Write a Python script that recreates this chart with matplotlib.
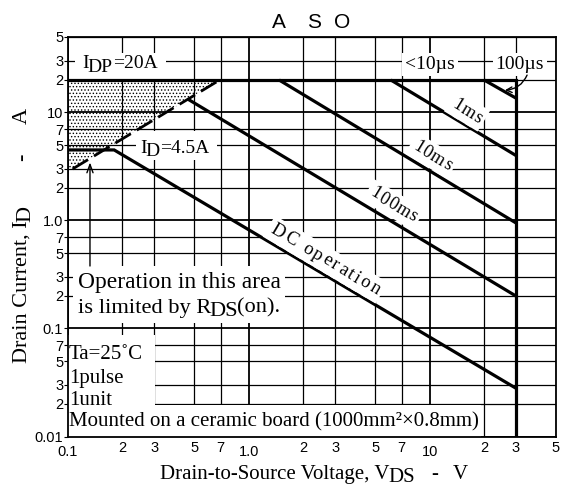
import numpy as np
import matplotlib
matplotlib.use("Agg")
import matplotlib.pyplot as plt
from matplotlib.patches import Rectangle
from matplotlib.font_manager import FontProperties
from matplotlib.transforms import IdentityTransform

# ---------------- data ----------------
limit_v = [0.1, 30, 30]          # I_DP = 20 A line, then V_DSS = 30 V
limit_i = [20, 20, 0.01]
rds_v = [0.106, 0.69]            # R_DS(on) limit (dashed)
rds_i = [3.0, 20]
dc_v = [0.1, 0.18, 30]           # I_D = 4.5 A, then DC operation
dc_i = [4.5, 4.5, 0.028]
ms100_v = [0.46, 30]
ms100_i = [13.3, 0.2]
ms10_v = [1.47, 30]
ms10_i = [20, 0.95]
ms1_v = [6.1, 30]
ms1_i = [20, 4.0]
us100_v = [20, 30]
us100_i = [20, 13.6]

x_major = [0.1, 1, 10]
x_major_labels = ['0.1', '1.0', '10']
x_minor = [0.2, 0.3, 0.5, 0.7, 2, 3, 5, 7, 20, 30, 50]
x_minor_labels = ['2', '3', '5', '7', '2', '3', '5', '7', '2', '3', '5']
y_major = [0.01, 0.1, 1, 10]
y_major_labels = ['0.01', '0.1', '1.0', '10']
y_minor = [0.02, 0.03, 0.05, 0.07, 0.2, 0.3, 0.5, 0.7, 2, 3, 5, 7, 20, 30, 50]
y_minor_labels = ['2', '3', '5', '7', '2', '3', '5', '7', '2', '3', '5', '7', '2', '3', '5']

# ---------------- figure ----------------
SERIF = "Liberation Serif"
SANS = "Liberation Sans"
plt.rcParams['font.family'] = [SANS, 'DejaVu Sans']
plt.rcParams['hatch.linewidth'] = 0.6

W, H, DPI = 574, 493, 100
fig = plt.figure(figsize=(W / DPI, H / DPI), dpi=DPI)
L, R, T, B = 68, 556, 37, 436.5
ax = fig.add_axes([L / W, (H - B) / H, (R - L) / W, (B - T) / H])
ax.set_xscale('log')
ax.set_yscale('log')
ax.set_xlim(0.1, 50)
ax.set_ylim(0.01, 50)

ax.set_xticks(x_major)
ax.set_xticklabels(x_major_labels)
ax.set_xticks(x_minor, minor=True)
ax.set_xticklabels(x_minor_labels, minor=True)
ax.set_yticks(y_major)
ax.set_yticklabels(y_major_labels)
ax.set_yticks(y_minor, minor=True)
ax.set_yticklabels(y_minor_labels, minor=True)

ax.tick_params(axis='both', which='both', labelsize=10.5, colors='k')
ax.tick_params(axis='x', which='both', length=0)
ax.tick_params(axis='x', which='major', pad=5.8)
ax.tick_params(axis='x', which='minor', pad=3.4)
ax.tick_params(axis='y', which='both', length=3, width=0.8, pad=0.5, direction='out')

ax.grid(True, which='major', color='k', lw=1.3)
ax.grid(True, which='minor', color='k', lw=0.9)
for sp in ax.spines.values():
    sp.set_linewidth(1.3)
    sp.set_zorder(10)

# ---------------- white boxes behind notes ----------------
def wbox(v0, v1, i0, i1):
    ax.add_patch(Rectangle((v0, i0), v1 - v0, i1 - i0, fc='white', ec='none', zorder=1.8))

wbox(0.109, 0.350, 20.6, 35.6)     # I_DP label
wbox(0.238, 0.670, 3.63, 6.74)     # I_D label
wbox(0.1066, 1.585, 0.1125, 0.379) # operation note
wbox(0.1, 0.303, 0.01, 0.0871)     # Ta / pulse / unit
wbox(0.1, 19.2, 0.01, 0.0196)      # mounted note

# ---------------- shaded R_DS(on) area ----------------
shade_v = [limit_v[0], rds_v[1], rds_v[0], limit_v[0]]
shade_i = [limit_i[0], rds_i[1], rds_i[0], rds_i[0]]
ax.fill(shade_v, shade_i, facecolor='none', edgecolor='k', hatch='.....', lw=0, zorder=1.9)

# ---------------- curves ----------------
LW = 2.3
for v, i in [(limit_v, limit_i), (dc_v, dc_i), (ms100_v, ms100_i),
             (ms10_v, ms10_i), (ms1_v, ms1_i), (us100_v, us100_i)]:
    ax.plot(v, i, color='k', lw=LW, solid_capstyle='butt', solid_joinstyle='miter', zorder=4)
ax.plot(rds_v, rds_i, color='k', lw=2.0, dashes=(6.5, 2.5), dash_capstyle='butt', zorder=4)

# ---------------- text helpers ----------------
renderer = fig.canvas.get_renderer()


def chain(x, y, parts, size, xycoords='data', rot=0, zorder=6):
    """parts: (text, raise_px, gap_px) pieces written one after another."""
    prev, prev_dy = None, 0.0
    for s, dy, gap in parts:
        if rot == 0:
            off = (gap, dy - prev_dy)
        else:
            off = (-(dy - prev_dy), gap)
        off = (off[0] * 72 / DPI, off[1] * 72 / DPI)
        kw = dict(textcoords='offset points', xytext=off, ha='left', rotation=rot,
                  rotation_mode='anchor', fontsize=size, family=SERIF, color='k',
                  zorder=zorder, annotation_clip=False)
        if prev is None:
            t = ax.annotate(s, (x, y), xycoords=xycoords, va='baseline', **kw)
        else:
            t = ax.annotate(s, (1, 1) if rot else (1, 0), xycoords=prev, va='bottom', **kw)
        prev, prev_dy = t, dy
    return prev


def along_line(s, v, i, ref_v, ref_i, size, extra):
    p1 = ax.transData.transform((ref_v[0], ref_i[0]))
    p2 = ax.transData.transform((ref_v[-1], ref_i[-1]))
    ang = np.arctan2(p2[1] - p1[1], p2[0] - p1[0])
    u = np.array([np.cos(ang), np.sin(ang)])
    nrm = np.array([-u[1], u[0]])
    prop = FontProperties(family=SERIF, size=size)

    def wid(t):
        if not t.strip():
            return 0.0
        return renderer.get_text_width_height_descent(t, prop, ismath=False)[0]

    em = size * DPI / 72
    total = wid(s) + extra * (len(s) - 1)
    base = ax.transData.transform((v, i)) - nrm * 0.3 * em
    kw = dict(transform=IdentityTransform(), ha='center', va='baseline',
              rotation=np.degrees(ang), rotation_mode='anchor',
              fontsize=size, family=SERIF)
    box = dict(boxstyle='square,pad=0.2', fc='white', ec='none')
    for pas in (0, 1):
        for k, ch in enumerate(s):
            if ch == ' ':
                if pas == 1:
                    continue
                left = wid(s[:k]) + extra * (k - 1)
                right = wid(s[:k + 2]) - wid(s[k + 1]) + extra * (k + 1)
                ck = (left + right) / 2 - total / 2
                p = base + u * ck
                ax.text(p[0], p[1], 'o', color='none', zorder=4.5, bbox=box, **kw)
                continue
            ck = wid(s[:k + 1]) - wid(ch) / 2 + extra * k - total / 2
            p = base + u * ck
            if pas == 0:
                ax.text(p[0], p[1], ch, color='none', zorder=4.5, bbox=box, **kw)
            else:
                ax.text(p[0], p[1], ch, color='k', zorder=6, **kw)


# ---------------- labels on the chart ----------------
chain(0.1195, 25.6, [("I", 0, 0), ("DP", -3.5, -1.5), ("=20A", 0, 0.5)], 14)
chain(0.250, 4.22, [("I", 0, 0), ("D", -3.5, -1.5), ("=4.5A", 0, 0.5)], 14)

wb = dict(boxstyle='square,pad=0.15', fc='white', ec='none')
ax.text(10.05, 25.3, "<10\u00b5s", family=SERIF, fontsize=14, ha='center', va='baseline', bbox=wb, zorder=6)
ax.text(31.6, 25.3, "100\u00b5s", family=SERIF, fontsize=14, ha='center', va='baseline', bbox=wb, zorder=6)
ax.annotate('', xy=(26.1, 16.1), xytext=(34.6, 22.2),
            arrowprops=dict(arrowstyle='->,head_length=0.4,head_width=0.2', lw=1.0, color='k',
                            shrinkA=0, shrinkB=0, connectionstyle='arc3,rad=-0.3'), zorder=6)

along_line("1ms", 16.2, 10.5, ms1_v, ms1_i, 13, 1.0)
along_line("10ms", 10.4, 4.04, ms10_v, ms10_i, 13, 1.0)
along_line("100ms", 6.35, 1.42, ms100_v, ms100_i, 13, 1.0)
along_line("DC operation", 2.67, 0.444, dc_v[1:], dc_i[1:], 13.5, 2.0)

# R_DS(on) note and arrow
ax.text(0.1136, 0.237, "Operation in this area", family=SERIF, fontsize=16.9, va='baseline', zorder=6)
chain(0.1136, 0.140, [("is limited by R", 0, 0), ("DS", -3, -1.5), ("(on).", 0, -1.5)], 16.2)
ax.annotate('', xy=(0.1323, 3.45), xytext=(0.1323, 0.379),
            arrowprops=dict(arrowstyle='->,head_length=0.6,head_width=0.22', lw=1.0, color='k',
                            shrinkA=0, shrinkB=0), zorder=6)

# conditions
for txt, yy in [("Ta=25\u02daC", 0.0519), ("1pulse", 0.0315), ("1unit", 0.0196),
                ("Mounted on a ceramic board (1000mm\u00b2\u00d70.8mm)", 0.0125)]:
    ax.text(0.1013, yy, txt, family=SERIF, fontsize=15, va='baseline', zorder=6)

# ---------------- title & axis labels ----------------
for ch, xc in [("A", 278.5), ("S", 314.5), ("O", 342.5)]:
    fig.text(xc / W, (H - 28.3) / H, ch, family=SANS, fontsize=15, ha='center', va='baseline')

chain(160, H - 479, [("Drain-to-Source Voltage, V", 0, 0), ("DS", -3.5, -1.5), ("-", 0, 17), ("V", 0, 14)],
      15, xycoords='figure pixels')
chain(27, H - 363, [("Drain Current, I", 0, 0), ("D", -3.5, -1.5), ("-", 0, 45), ("A", 0, 29)],
      16, xycoords='figure pixels', rot=90)

fig.savefig("out.png", dpi=DPI)
